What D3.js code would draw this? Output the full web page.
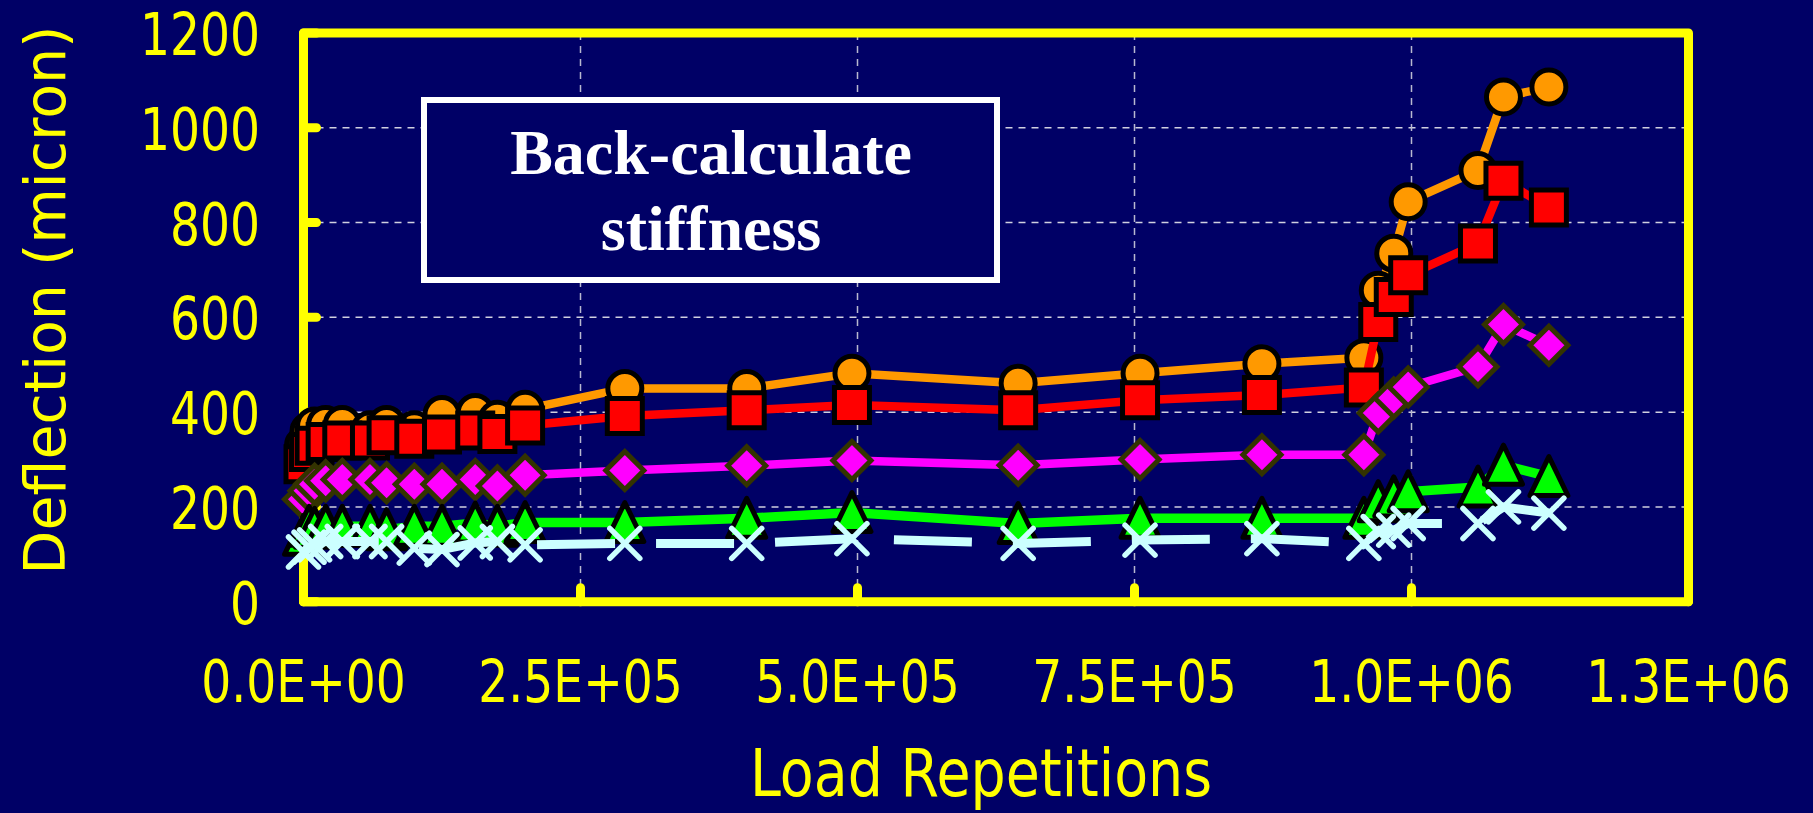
<!DOCTYPE html>
<html>
<head>
<meta charset="utf-8">
<script src="https://cdn.jsdelivr.net/npm/d3@7"></script>
<style>
	body { margin: 0; background: #000066; }
	svg { display: block; }
</style>
</head>
<body>
<div id="main"></div>
<script>

// load repetitions (x) shared by every series
var reps = [0, 5000, 10000, 20000, 35000, 60000, 75000, 100000, 125000, 155000, 175000, 200000,
	290000, 400000, 495000, 645000, 755000, 865000, 957000, 970000, 984000, 997000, 1060000, 1083000, 1124000]

// deflection values (micron)
var orangeDefl = [330, 360, 371, 374, 374, 363, 374, 363, 395, 399, 385, 406,
	450, 450, 482, 461, 482, 502, 515, 657, 735, 844, 910, 1065, 1086]
var redDefl = [290, 316, 329, 337, 340, 340, 351, 344, 353, 361, 354, 372,
	392, 404, 415, 404, 425, 436, 452, 590, 643, 689, 756, 888, 832]
var magentaDefl = [216, 234, 248, 255, 258, 258, 251, 248, 248, 258, 244, 267,
	277, 287, 298, 288, 300, 310, 310, 398, 430, 453, 496, 585, 541]
var greenDefl = [140, 159, 155, 159, 159, 159, 152, 159, 159, 166, 159, 167,
	167, 176, 188, 165, 176, 176, 176, 211, 221, 232, 242, 288, 264]
var cyanDefl = [105, 115, 120, 127, 127, 127, 127, 113, 110, 124, 127, 120,
	123, 123, 133, 123, 130, 133, 123, 148, 151, 165, 165, 200, 187]

var yTicks = [0, 200, 400, 600, 800, 1000, 1200]
var xTicks = [0, 250000, 500000, 750000, 1000000, 1250000]
var xTickLabels = ["0.0E+00", "2.5E+05", "5.0E+05", "7.5E+05", "1.0E+06", "1.3E+06"]

var w = 1813, h = 813
var plot = { left: 303.5, right: 1688.5, top: 33, bottom: 601.7 }

var svg = d3.select("#main")
	.append("svg")
	.attr("width", w)
	.attr("height", h)

svg.append("rect")
	.attr("width", w)
	.attr("height", h)
	.attr("fill", "#000066")

var x = d3.scaleLinear()
	.domain([0, 1250000])
	.range([plot.left, plot.right])

var y = d3.scaleLinear()
	.domain([0, 1200])
	.range([plot.bottom, plot.top])

// dashed gridlines
svg.selectAll(".hgrid")
	.data(yTicks.slice(1, -1))
	.enter()
	.append("line")
	.attr("class", "hgrid")
	.attr("x1", plot.left)
	.attr("x2", plot.right)
	.attr("y1", function(d) { return y(d) })
	.attr("y2", function(d) { return y(d) })
	.attr("stroke", "#d0d0e0")
	.attr("stroke-width", 1.5)
	.attr("stroke-dasharray", "7,6")

svg.selectAll(".vgrid")
	.data(xTicks.slice(1, -1))
	.enter()
	.append("line")
	.attr("class", "vgrid")
	.attr("y1", plot.top)
	.attr("y2", plot.bottom)
	.attr("x1", function(d) { return x(d) })
	.attr("x2", function(d) { return x(d) })
	.attr("stroke", "#b8b8d0")
	.attr("stroke-width", 1.5)
	.attr("stroke-dasharray", "7,6")

// text box
svg.append("rect")
	.attr("x", 424)
	.attr("y", 100)
	.attr("width", 573)
	.attr("height", 180)
	.attr("fill", "#000066")
	.attr("stroke", "#ffffff")
	.attr("stroke-width", 6)

svg.append("text")
	.attr("x", 711)
	.attr("y", 174)
	.attr("text-anchor", "middle")
	.attr("font-family", "'Liberation Serif', 'Times New Roman', serif")
	.attr("font-weight", "bold")
	.attr("font-size", 64)
	.attr("fill", "#ffffff")
	.text("Back-calculate")

svg.append("text")
	.attr("x", 711)
	.attr("y", 250)
	.attr("text-anchor", "middle")
	.attr("font-family", "'Liberation Serif', 'Times New Roman', serif")
	.attr("font-weight", "bold")
	.attr("font-size", 64)
	.attr("fill", "#ffffff")
	.text("stiffness")

// frame and ticks
svg.append("rect")
	.attr("x", plot.left)
	.attr("y", plot.top)
	.attr("width", plot.right - plot.left)
	.attr("height", plot.bottom - plot.top)
	.attr("fill", "none")
	.attr("stroke", "#ffff00")
	.attr("stroke-width", 9)
	.attr("stroke-linejoin", "round")

svg.selectAll(".ytick")
	.data(yTicks)
	.enter()
	.append("line")
	.attr("class", "ytick")
	.attr("x1", plot.left)
	.attr("x2", plot.left + 13)
	.attr("y1", function(d) { return y(d) })
	.attr("y2", function(d) { return y(d) })
	.attr("stroke", "#ffff00")
	.attr("stroke-width", 9)
	.attr("stroke-linecap", "round")

svg.selectAll(".xtick")
	.data(xTicks)
	.enter()
	.append("line")
	.attr("class", "xtick")
	.attr("x1", function(d) { return x(d) })
	.attr("x2", function(d) { return x(d) })
	.attr("y1", plot.bottom)
	.attr("y2", plot.bottom - 14)
	.attr("stroke", "#ffff00")
	.attr("stroke-width", 9)
	.attr("stroke-linecap", "round")

// tick labels
svg.selectAll(".ylabel")
	.data(yTicks)
	.enter()
	.append("text")
	.attr("class", "ylabel")
	.attr("transform", function(d) { return "translate(260," + (y(d) + 22) + ") scale(0.8,1)" })
	.attr("text-anchor", "end")
	.attr("font-family", "'DejaVu Sans', Verdana, sans-serif")
	.attr("font-size", 59)
	.attr("fill", "#ffff00")
	.text(function(d) { return d })

svg.selectAll(".xlabel")
	.data(xTicks)
	.enter()
	.append("text")
	.attr("class", "xlabel")
	.attr("transform", function(d) { return "translate(" + x(d) + ",702) scale(0.8,1)" })
	.attr("text-anchor", "middle")
	.attr("font-family", "'DejaVu Sans', Verdana, sans-serif")
	.attr("font-size", 59)
	.attr("fill", "#ffff00")
	.text(function(d, i) { return xTickLabels[i] })

// axis titles
svg.append("text")
	.attr("transform", "translate(981,796) scale(0.84,1)")
	.attr("text-anchor", "middle")
	.attr("font-family", "'DejaVu Sans', Verdana, sans-serif")
	.attr("font-size", 66)
	.attr("fill", "#ffff00")
	.text("Load Repetitions")

svg.append("text")
	.attr("transform", "translate(65,300) rotate(-90)")
	.attr("text-anchor", "middle")
	.attr("font-family", "'DejaVu Sans', Verdana, sans-serif")
	.attr("font-size", 57)
	.attr("fill", "#ffff00")
	.text("Deflection (micron)")

// series
var line = d3.line()
	.x(function(d) { return x(d[0]) })
	.y(function(d) { return y(d[1]) })

function pairs(vals) {
	return reps.map(function(r, i) { return [r, vals[i]] })
}

var series = [
	{ vals: orangeDefl, color: "#ff9900", shape: "circle", edge: "#000000", lw: 8.5 },
	{ vals: redDefl, color: "#ff0000", shape: "square", edge: "#000000", lw: 8.5 },
	{ vals: magentaDefl, color: "#ff00ff", shape: "diamond", edge: "#333300", lw: 8.5 },
	{ vals: greenDefl, color: "#00ff00", shape: "triangle", edge: "#000000", lw: 9.5 },
	{ vals: cyanDefl, color: "#ccffff", shape: "cross", edge: "#ccffff", lw: 9, dash: "78,41" }
]

var shapes = {
	circle: "M17,0A17,17 0 1,1 -17,0A17,17 0 1,1 17,0Z",
	square: "M-17.5,-17.5H17.5V17.5H-17.5Z",
	diamond: "M0,-19L19,0L0,19L-19,0Z",
	triangle: "M0,-20L19,19H-19Z",
	cross: "M-15,-15L15,15M15,-15L-15,15"
}

series.forEach(function(s) {
	var data = pairs(s.vals)
	var g = svg.append("g")

	g.append("path")
		.datum(data)
		.attr("d", line)
		.attr("fill", "none")
		.attr("stroke", s.color)
		.attr("stroke-width", s.lw)
		.attr("stroke-dasharray", s.dash || null)

	g.selectAll(".mark")
		.data(data)
		.enter()
		.append("path")
		.attr("class", "mark")
		.attr("transform", function(d) { return "translate(" + x(d[0]) + "," + y(d[1]) + ")" })
		.attr("d", shapes[s.shape])
		.attr("fill", s.shape == "cross" ? "none" : s.color)
		.attr("stroke", s.edge)
		.attr("stroke-width", s.shape == "cross" ? 5.5 : 5)
		.attr("stroke-linecap", "round")
		.attr("stroke-linejoin", s.shape == "triangle" ? "round" : "miter")
})

</script>
</body>
</html>
